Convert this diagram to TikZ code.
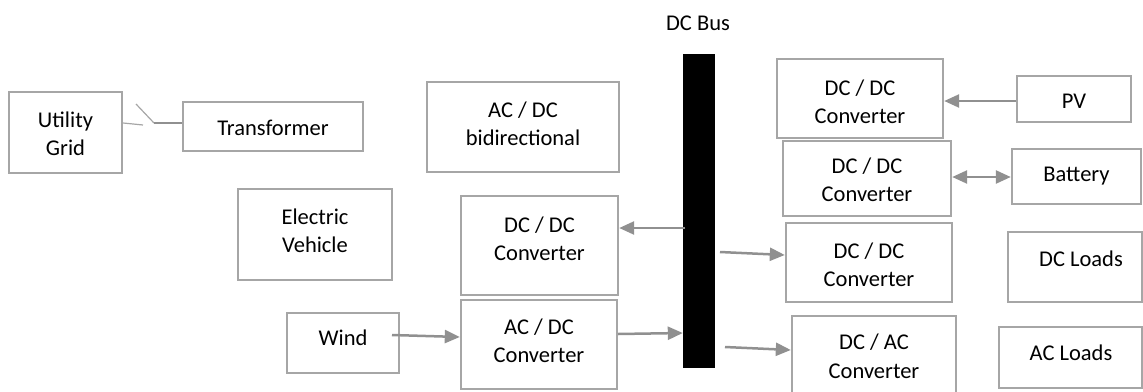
\documentclass[tikz,border=0pt]{standalone}
\usepackage{fontspec}
\setmainfont{Carlito}
\usetikzlibrary{arrows.meta,fit}
\definecolor{boxgray}{HTML}{A6A6A6}
\definecolor{arrgray}{HTML}{909090}
\tikzset{
  box/.style={draw=boxgray, line width=2.4pt, inner sep=0pt},
  txt/.style={align=center, inner sep=0pt, font=\fontsize{22.5}{28.5}\selectfont},
  arr/.style={draw=arrgray, line width=2.5pt, -{Triangle[length=15pt,width=13pt]}},
  darr/.style={draw=arrgray, line width=2.5pt, {Triangle[length=15pt,width=13pt]}-{Triangle[length=15pt,width=13pt]}},
  thinline/.style={draw=arrgray!80, line width=1.2pt},
}
\begin{document}
\begin{tikzpicture}[x=1pt,y=-1pt]
\useasboundingbox (0,0) rectangle (1143,391);
\clip (0,0) rectangle (1143,391);
% boxes
\node[box, fit={(9,92)(122,173)}] (grid) {};
\node[txt] (gridt) at (65.5,134) {Utility\\Grid};
\node[box, fit={(183,102)(363,151)}] (trans) {};
\node[txt] (transt) at (273,128) {Transformer};
\node[box, fit={(427,82)(619,172)}] (acdcb) {};
\node[txt] (acdcbt) at (523,124) {AC / DC\\bidirectional};
\node[box, fit={(238,189)(392,280)}] (ev) {};
\node[txt] (evt) at (315,231) {Electric\\Vehicle};
\node[box, fit={(461,196)(618,295)}] (dcl) {};
\node[txt] (dclt) at (539.5,239) {DC / DC\\Converter};
\node[box, fit={(287,313)(399,373)}] (wind) {};
\node[txt] (windt) at (343,338) {Wind};
\node[box, fit={(461,300)(617,389)}] (acdc) {};
\node[txt] (acdct) at (539,341) {AC / DC\\Converter};
% DC bus
\node[fill=black, inner sep=0pt, minimum width=32pt, minimum height=314pt] (bus) at (699,211) {};
\node[txt] (bust) at (698,23) {DC Bus};
% right side
\node[box, fit={(777,59)(943,138)}] (dc1) {};
\node[txt] (dc1t) at (860,102) {DC / DC\\Converter};
\node[box, fit={(1017,76)(1131,122)}] (pv) {};
\node[txt] (pvt) at (1074,101) {PV};
\node[box, fit={(783,141)(951,216)}] (dc2) {};
\node[txt] (dc2t) at (867,180) {DC / DC\\Converter};
\node[box, fit={(1012,149)(1141,204)}] (bat) {};
\node[txt] (batt) at (1076.5,176) {Battery};
\node[box, fit={(786,223)(952,302)}] (dc3) {};
\node[txt] (dc3t) at (869,265) {DC / DC\\Converter};
\node[box, fit={(792,316)(956,400)}] (dcac) {};
\node[txt] (dcact) at (874,356.5) {DC / AC\\Converter};
\node[box, fit={(1008,232)(1142,302)}] (dcload) {};
\node[txt] (dcloadt) at (1081,259) {DC Loads};
\node[box, fit={(999,327)(1142,388)}] (acload) {};
\node[txt] (acloadt) at (1071,353) {AC Loads};
% switch
\coordinate (s1) at (143,125);
\coordinate (s2) at (136,104);
\coordinate (s3) at (154,123);
\draw[thinline] (grid.east |- 0,123) -- (s1);
\draw[thinline] (s2) -- (s3);
\draw[draw=arrgray, line width=2.2pt] (s3) -- (trans.west |- s3);
% connectors
\coordinate (b1) at (685,228);
\draw[arr] (b1) -- (dcl.east |- b1);
\coordinate (w1) at (392,335);
\draw[arr] (w1) -- (acdc.west |- 0,337);
\coordinate (a1) at (618,334);
\draw[arr] (a1) -- (bus.west |- 0,333);
\coordinate (b2) at (720,252);
\draw[arr] (b2) -- (dc3.west |- 0,255);
\coordinate (b3) at (725,347);
\draw[arr] (b3) -- (dcac.west |- 0,350);
\draw[arr] (pv.west |- 0,101) -- (dc1.east |- 0,101);
\draw[darr] (dc2.east |- 0,177) -- (bat.west |- 0,177);
\end{tikzpicture}
\end{document}
